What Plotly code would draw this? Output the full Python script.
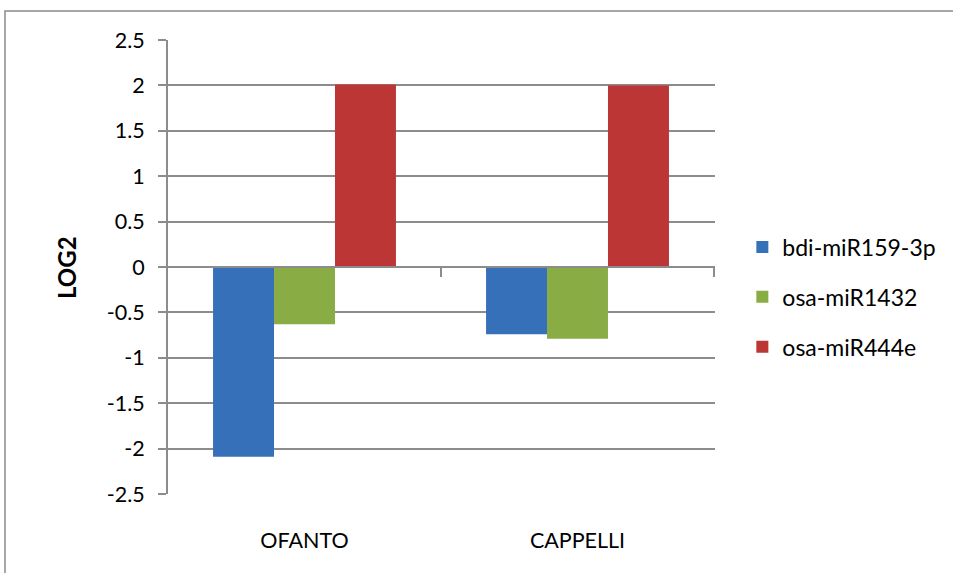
import plotly.graph_objects as go

# Varieties on the category axis
varieties = ["OFANTO", "CAPPELLI"]

# Fold-change (log2) per miRNA
bdi_miR159_3p = [-2.09, -0.74]
osa_miR1432 = [-0.63, -0.79]
osa_miR444e = [2.01, 2.00]

series_names = ["bdi-miR159-3p", "osa-miR1432", "osa-miR444e"]
series_values = [bdi_miR159_3p, osa_miR1432, osa_miR444e]
series_colors = ["#3670B9", "#89AD44", "#BB3634"]

y_ticks = [2.5, 2, 1.5, 1, 0.5, 0, -0.5, -1, -1.5, -2, -2.5]

FONT = "Lato, 'Open Sans', sans-serif"
GRID = "#8C8C8C"

fig = go.Figure()
for i, (name, vals, col) in enumerate(zip(series_names, series_values, series_colors)):
    fig.add_trace(go.Bar(
        x=varieties, y=vals, name=name,
        marker=dict(color=col, line=dict(width=0)),
        legendgroup=f"g{i}",
    ))

# small tick marks on the zero line at the category boundaries
boundary_ticks = [
    dict(type="line", xref="x", yref="y", x0=b, x1=b, y0=0, y1=-0.11,
         line=dict(color=GRID, width=2), layer="above")
    for b in (0.5, 1.5)
]

fig.update_layout(
    width=953, height=573,
    margin=dict(l=168, r=238, t=40, b=79, autoexpand=False),
    paper_bgcolor="white", plot_bgcolor="white",
    barmode="group", bargap=0.33, bargroupgap=0,
    font=dict(family=FONT, size=21, color="#000000"),
    showlegend=True,
    legend=dict(
        x=1.05, xanchor="left", y=0.434, yanchor="middle",
        font=dict(size=23, family=FONT),
        traceorder="grouped", tracegroupgap=17,
        bgcolor="rgba(0,0,0,0)",
    ),
    xaxis=dict(
        type="category", showgrid=False, showline=False, ticks="",
        zeroline=False, ticklabelstandoff=31,
        tickfont=dict(size=21.5, family=FONT),
    ),
    yaxis=dict(
        range=[-2.5, 2.5], tickvals=y_ticks, ticktext=[f"{v:g}" for v in y_ticks],
        showgrid=True, gridcolor=GRID, gridwidth=2,
        zeroline=False, showline=True, linecolor=GRID, linewidth=2,
        ticks="outside", ticklen=8, tickwidth=2, tickcolor=GRID,
        ticklabelstandoff=9, tickfont=dict(size=21.5, family=FONT),
    ),
    shapes=[
        # horizontal axis line at zero, drawn over the bars
        dict(type="line", xref="paper", yref="y", x0=0, x1=1, y0=0, y1=0,
             line=dict(color=GRID, width=2), layer="above"),
        *boundary_ticks,
        # chart frame
        dict(type="rect", xref="paper", yref="paper",
             x0=-0.298, x1=1.6, y0=-0.4, y1=1.064,
             line=dict(color="#8A8A8A", width=1.5), fillcolor="rgba(0,0,0,0)",
             layer="below"),
    ],
    annotations=[
        dict(text="<b>LOG2</b>", xref="paper", yref="paper", x=-0.1865, y=0.5,
             textangle=-90, showarrow=False, font=dict(size=24, family=FONT),
             xanchor="center", yanchor="middle"),
    ],
)

fig.write_html("out.html")
